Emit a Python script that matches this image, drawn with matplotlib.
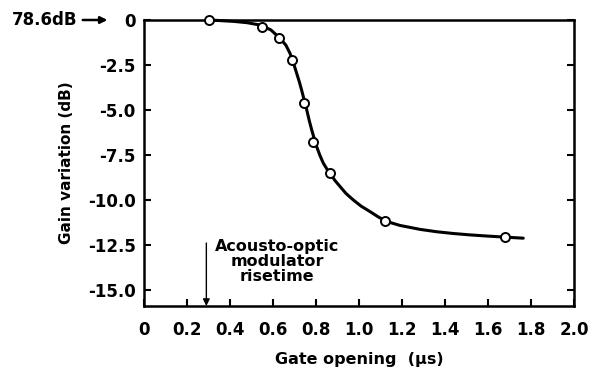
import matplotlib
matplotlib.use('Agg')
import matplotlib.pyplot as plt

# measured points (open circles)
pt_x = [0.30, 0.55, 0.63, 0.69, 0.745, 0.785, 0.865, 1.12, 1.68]
pt_y = [0.0, -0.37, -1.02, -2.24, -4.59, -6.8, -8.48, -11.17, -12.07]

# smooth curve drawn through the points
curve_x = [0.307, 0.42, 0.48, 0.54, 0.59, 0.633, 0.66, 0.679, 0.695, 0.71, 0.722, 0.733,
           0.745, 0.757, 0.768, 0.78, 0.792, 0.803, 0.818, 0.834, 0.85, 0.865, 0.888,
           0.912, 0.94, 0.973, 1.01, 1.051, 1.09, 1.129, 1.19, 1.284, 1.36, 1.439,
           1.52, 1.594, 1.679, 1.764]
curve_y = [0.0, -0.08, -0.15, -0.28, -0.55, -1.02, -1.4, -1.85, -2.38, -2.96, -3.42, -3.89,
           -4.45, -5.0, -5.56, -6.11, -6.6, -7.04, -7.52, -7.96, -8.27, -8.52, -8.92,
           -9.26, -9.65, -10.0, -10.35, -10.65, -10.95, -11.2, -11.42, -11.64, -11.77, -11.87,
           -11.95, -12.01, -12.07, -12.13]

xticks = [0, 0.2, 0.4, 0.6, 0.8, 1.0, 1.2, 1.4, 1.6, 1.8, 2.0]
xlabels = ['0', '0.2', '0.4', '0.6', '0.8', '1.0', '1.2', '1.4', '1.6', '1.8', '2.0']
yticks = [0, -2.5, -5.0, -7.5, -10.0, -12.5, -15.0]
ylabels = ['0', '-2.5', '-5.0', '-7.5', '-10.0', '-12.5', '-15.0']

plt.rcParams['font.family'] = 'DejaVu Sans'
plt.rcParams['font.weight'] = 'bold'

fig = plt.figure(figsize=(5.94, 3.70), dpi=100)
ax = fig.add_axes([144/594, 1 - 306/370, (574-144)/594, (306-20)/370])

ax.plot(curve_x, curve_y, color='black', lw=2.2, clip_on=False, zorder=2,
        solid_joinstyle='round', solid_capstyle='round')
ax.plot(pt_x, pt_y, 'o', ms=6.5, mfc='white', mec='black', mew=1.4, clip_on=False, zorder=3)

ax.set_xlim(0, 2.0)
ax.set_ylim(-15.9, 0)
ax.set_xticks(xticks)
ax.set_xticklabels(xlabels)
ax.set_yticks(yticks)
ax.set_yticklabels(ylabels)
ax.tick_params(axis='x', direction='in', length=5, width=1.5, labelsize=12, pad=11)
ax.tick_params(axis='y', direction='in', length=5, width=1.5, labelsize=12, right=True, pad=6)
for s in ax.spines.values():
    s.set_linewidth(1.8)

ax.set_xlabel('Gate opening  (\u03bcs)', fontsize=11.5, fontweight='bold', labelpad=9)
ax.set_ylabel('Gain variation (dB)', fontsize=11, fontweight='bold', labelpad=10)

# reference level at top left
ax.text(-0.615, 0, '78.6dB', fontsize=12, fontweight='bold', va='center', ha='left')
ax.annotate('', xy=(-0.17, 0), xytext=(-0.285, 0), annotation_clip=False,
            arrowprops=dict(arrowstyle='-|>', color='black', lw=1.8, shrinkA=0, shrinkB=0))

# risetime marker
ax.annotate('', xy=(0.29, -15.9), xytext=(0.29, -12.4), annotation_clip=False,
            arrowprops=dict(arrowstyle='-|>', color='black', lw=1.0, shrinkA=0, shrinkB=0))
ax.text(0.62, -13.44, 'Acousto-optic\nmodulator\nrisetime', fontsize=11.5, fontweight='bold',
        ha='center', va='center', linespacing=1.0)

fig.savefig('out.png', dpi=100)
